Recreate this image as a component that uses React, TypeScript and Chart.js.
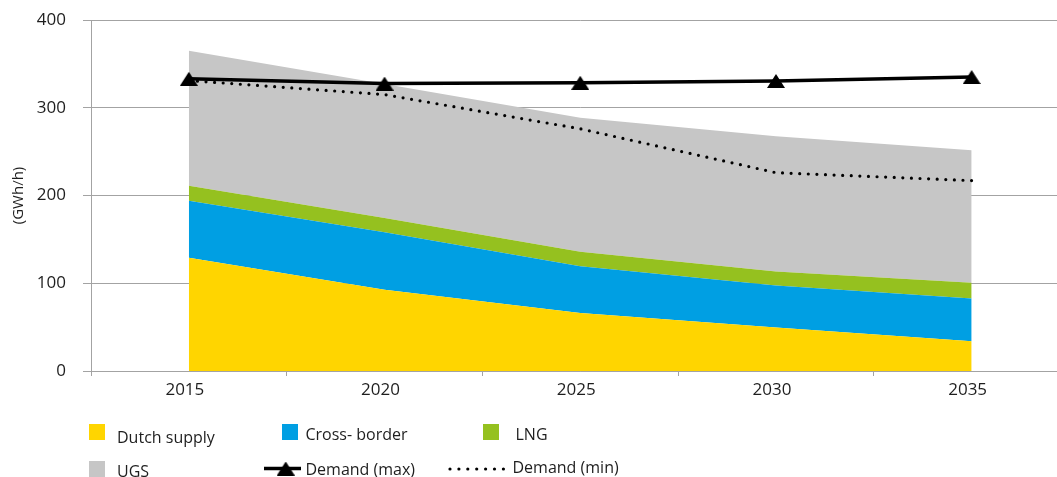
import { useEffect, useRef } from "react";
import { Chart, registerables } from "chart.js";

Chart.register(...registerables);

// Peak-hour gas supply by source, stacked, against peak demand (GWh/h)
const years = ["2015", "2020", "2025", "2030", "2035"];
const dutchSupply = [129, 92.5, 66, 49.5, 34];
const crossBorder = [65, 65.5, 53.5, 48, 48.5];
const lng = [17, 16.5, 16.5, 16, 18];
const ugs = [154, 152.5, 152.5, 154, 151];
const demandMax = [333, 327.5, 328.5, 330.5, 335];
const demandMin = [331, 315, 276, 226, 217];

const yMin = 0;
const yMax = 400;
const yStep = 100;

const FONT = "'Open Sans', 'Noto Sans', sans-serif";
const TEXT = "#1e1e1e";
const GRID = "#a3a3a3";

// Filled triangle used as the marker of the maximum-demand line
function makeTriangle(w: number, h: number): HTMLCanvasElement {
  const c = document.createElement("canvas");
  c.width = w;
  c.height = h;
  const g = c.getContext("2d")!;
  g.fillStyle = "#000";
  g.beginPath();
  g.moveTo(w / 2, 0);
  g.lineTo(w, h);
  g.lineTo(0, h);
  g.closePath();
  g.fill();
  return c;
}

// Two-row legend laid out under the plot
const legendPlugin = {
  id: "twoRowLegend",
  afterDraw(chart: any) {
    const ctx: CanvasRenderingContext2D = chart.ctx;
    const ds = chart.data.datasets;
    ctx.save();
    ctx.font = `16px ${FONT}`;
    ctx.fillStyle = TEXT;
    ctx.textBaseline = "alphabetic";
    ctx.textAlign = "left";

    const boxes = [
      { i: 0, bx: 89, by: 424, tx: 117, ty: 442.5 },
      { i: 1, bx: 282, by: 424, tx: 305.5, ty: 439.5 },
      { i: 2, bx: 483, by: 424, tx: 515.5, ty: 439.5 },
      { i: 3, bx: 89, by: 461, tx: 117, ty: 476.5 },
    ];
    for (const b of boxes) {
      ctx.fillStyle = ds[b.i].backgroundColor;
      ctx.fillRect(b.bx, b.by, 16, 16);
      ctx.fillStyle = TEXT;
      ctx.fillText(ds[b.i].label, b.tx, b.ty);
    }

    // maximum demand: solid line with triangle
    ctx.strokeStyle = "#000";
    ctx.lineWidth = 3.5;
    ctx.beginPath();
    ctx.moveTo(264, 468.5);
    ctx.lineTo(301, 468.5);
    ctx.stroke();
    ctx.drawImage(ds[4].pointStyle, 285.7 - 9, 461.5, 18, 14);
    ctx.fillText(ds[4].label, 305.5, 475);

    // minimum demand: row of dots
    ctx.fillStyle = "#000";
    for (let k = 0; k < 7; k++) {
      ctx.beginPath();
      ctx.arc(450 + k * 8.9, 469, 1.6, 0, Math.PI * 2);
      ctx.fill();
    }
    ctx.fillStyle = TEXT;
    ctx.fillText(ds[5].label, 512.5, 472.7);
    ctx.restore();
  },
};

export default function App() {
  const ref = useRef<HTMLCanvasElement>(null);

  useEffect(() => {
    const triangle = makeTriangle(18, 14);
    const area = (label: string, data: number[], color: string, fill: string | number) => ({
      type: "line" as const,
      label,
      data,
      backgroundColor: color,
      borderColor: color,
      borderWidth: 0,
      pointRadius: 0,
      fill,
      stack: "supply",
      order: 1,
    });

    const chart = new Chart(ref.current!, {
      type: "line",
      data: {
        labels: years,
        datasets: [
          area("Dutch supply", dutchSupply, "#FFD500", "origin"),
          area("Cross- border", crossBorder, "#009FE3", "-1"),
          area("LNG", lng, "#95C11F", "-1"),
          area("UGS", ugs, "#C6C6C6", "-1"),
          {
            type: "line",
            label: "Demand (max)",
            data: demandMax,
            borderColor: "#000",
            backgroundColor: "#000",
            borderWidth: 3.5,
            pointStyle: triangle as any,
            pointRadius: 9,
            fill: false,
            stack: "max",
            order: 0,
          },
          {
            type: "line",
            label: "Demand (min)",
            data: demandMin,
            borderColor: "#000",
            backgroundColor: "#000",
            borderWidth: 3.2,
            borderDash: [0, 8.6],
            borderCapStyle: "round",
            pointRadius: 0,
            fill: false,
            stack: "min",
            order: 0,
          },
        ] as any,
      },
      options: {
        responsive: false,
        animation: false,
        devicePixelRatio: 1,
        layout: { padding: { top: 20, right: 0, bottom: 0, left: 0 } },
        plugins: {
          legend: { display: false },
          tooltip: { enabled: false },
        },
        scales: {
          x: {
            type: "category",
            offset: true,
            grid: {
              offset: true,
              drawOnChartArea: false,
              drawTicks: true,
              tickLength: 5,
              color: GRID,
            },
            border: { display: true, color: GRID, width: 1 },
            ticks: {
              font: { family: FONT, size: 17 },
              color: TEXT,
              padding: 4,
              labelOffset: -4,
              maxRotation: 0,
            },
            afterFit: (s: any) => {
              s.height = 106;
            },
          },
          y: {
            stacked: true,
            min: yMin,
            max: yMax,
            grid: { color: GRID, lineWidth: 1, tickLength: 8, drawTicks: true },
            border: { display: true, color: GRID, width: 1 },
            ticks: {
              stepSize: yStep,
              font: { family: FONT, size: 17 },
              color: TEXT,
              padding: 17,
            },
            title: {
              display: true,
              text: "(GWh/h)",
              font: { family: FONT, size: 15 },
              color: TEXT,
              padding: { top: 10, bottom: 0 },
            },
            afterFit: (s: any) => {
              // fixed axis width; the wide label gap is horizontal only
              s.width = 91;
              s.paddingTop = 10;
              s.paddingBottom = 10;
            },
          },
        },
      },
      plugins: [legendPlugin],
    });
    return () => chart.destroy();
  }, []);

  return (
    <div
      style={{
        position: "absolute",
        left: 0,
        top: 0,
        width: 1057,
        height: 477,
        overflow: "hidden",
        background: "#fff",
      }}
    >
      <canvas ref={ref} width={1082} height={477} style={{ display: "block" }} />
    </div>
  );
}
